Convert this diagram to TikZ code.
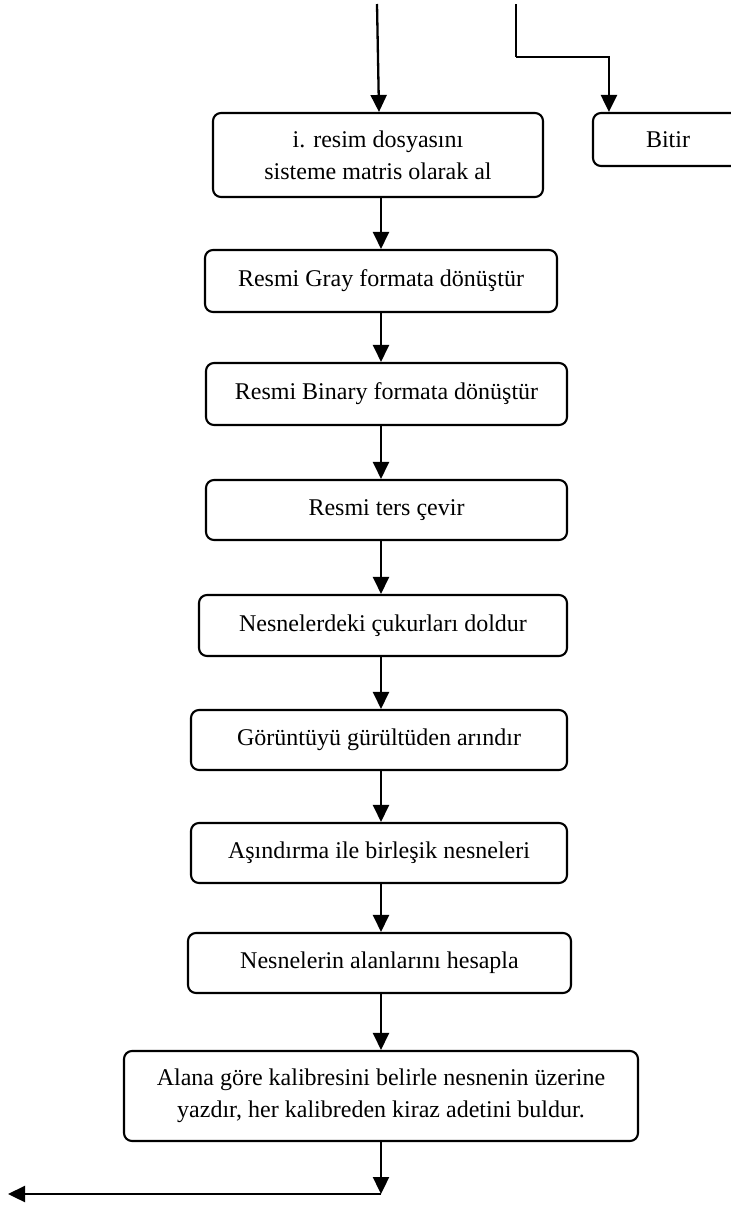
\documentclass[tikz,border=0pt]{standalone}
\usepackage{fontspec}
\setmainfont{Liberation Serif}
\usetikzlibrary{arrows.meta}
\begin{document}
\begin{tikzpicture}[x=1pt,y=-1pt,
  box/.style={draw, line width=2.1pt, rounded corners=8pt, inner sep=0pt, align=center,
    font=\fontsize{24}{32}\selectfont},
  arr/.style={line width=2.3pt, -{Triangle[length=17pt,width=16pt]}},
  conn/.style={line width=2.3pt}]
\useasboundingbox (0,0) rectangle (731,1205);
\clip (0,0) rectangle (731,1205);
\fill[white] (0,0) rectangle (731,1205);
\node[box, minimum width=330pt, minimum height=84pt] (b1) at (378,155) {i. resim dosyasını\\sisteme matris olarak al};
\node[box, minimum width=150pt, minimum height=53pt] (bitir) at (668,139.5) {Bitir};
\node[box, minimum width=352pt, minimum height=62pt] (b2) at (381,281) {Resmi Gray formata dönüştür};
\node[box, minimum width=361pt, minimum height=62pt] (b3) at (386.5,394) {Resmi Binary formata dönüştür};
\node[box, minimum width=361pt, minimum height=60pt] (b4) at (386.5,510) {Resmi ters çevir};
\node[box, minimum width=368pt, minimum height=61pt] (b5) at (383,625.5) {Nesnelerdeki çukurları doldur};
\node[box, minimum width=376pt, minimum height=60pt] (b6) at (379,740) {Görüntüyü gürültüden arındır};
\node[box, minimum width=376pt, minimum height=60pt] (b7) at (379,853) {Aşındırma ile birleşik nesneleri};
\node[box, minimum width=383pt, minimum height=60pt] (b8) at (379.5,963) {Nesnelerin alanlarını hesapla};
\node[box, minimum width=514pt, minimum height=90pt] (b9) at (381,1096) {Alana göre kalibresini belirle nesnenin üzerine\\yazdır, her kalibreden kiraz adetini buldur.};
\coordinate (ax) at (381,0);
\coordinate (in) at (377,4);
\coordinate (t2) at (516,4);
\coordinate (k) at (516,57);
\coordinate (e) at (381,1194);
\coordinate (l) at (8,1194);
\draw[arr] (in) -- (b1.north -| 379,0);
\draw[conn] (t2) -- (k);
\draw[arr] (k) -| ([xshift=17pt]bitir.north west);
\draw[arr] (b1.south -| ax) -- (b2.north -| ax);
\draw[arr] (b2.south -| ax) -- (b3.north -| ax);
\draw[arr] (b3.south -| ax) -- (b4.north -| ax);
\draw[arr] (b4.south -| ax) -- (b5.north -| ax);
\draw[arr] (b5.south -| ax) -- (b6.north -| ax);
\draw[arr] (b6.south -| ax) -- (b7.north -| ax);
\draw[arr] (b7.south -| ax) -- (b8.north -| ax);
\draw[arr] (b8.south -| ax) -- (b9.north -| ax);
\draw[arr] (b9.south -| ax) -- (e);
\draw[arr] (e) -- (l);
\end{tikzpicture}
\end{document}
